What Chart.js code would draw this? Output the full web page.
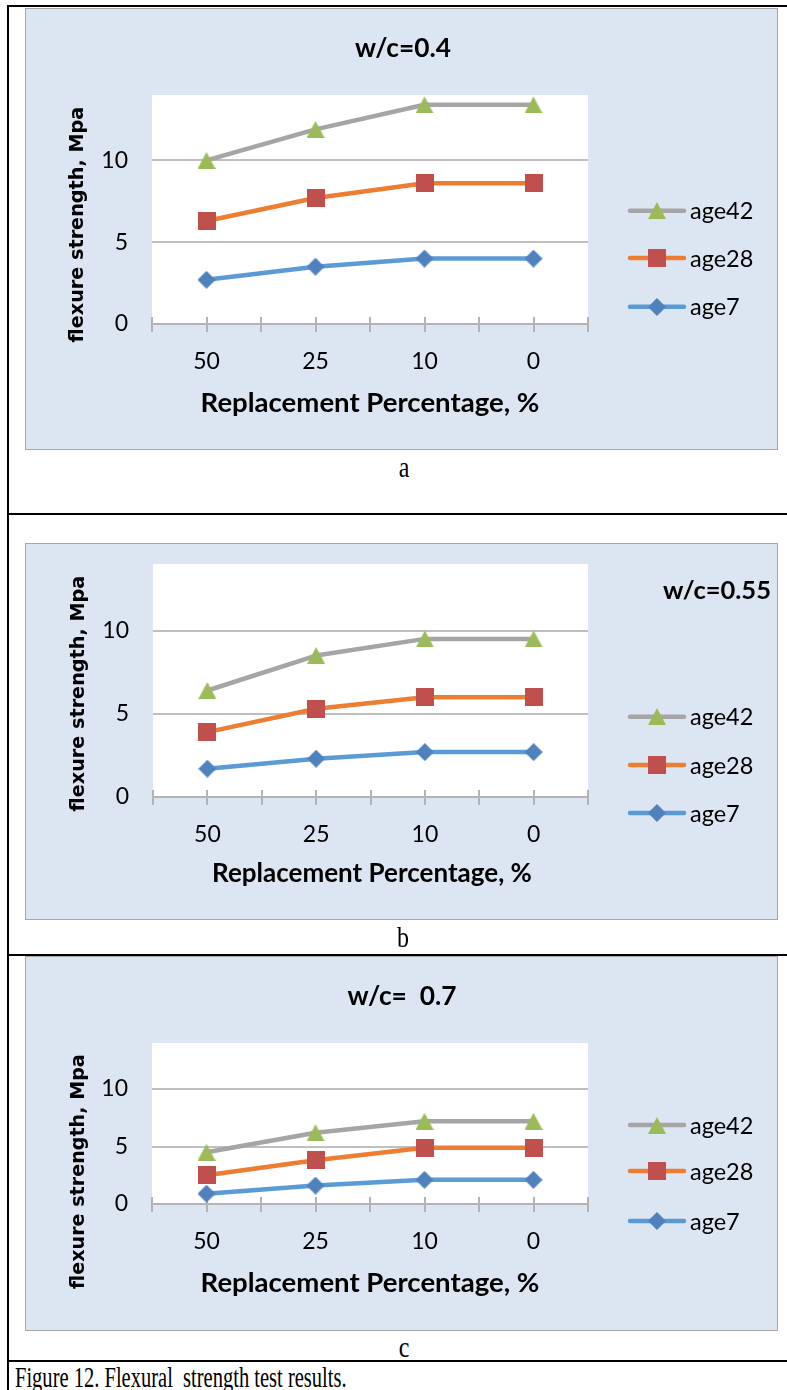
<!DOCTYPE html>
<html><head><meta charset="utf-8">
<script src="https://cdn.jsdelivr.net/npm/chart.js@4.4.1/dist/chart.umd.min.js"></script>
<style>
html,body{margin:0;padding:0;background:#fff;}
body{width:787px;height:1390px;position:relative;overflow:hidden;}
.ln{position:absolute;background:#000;}
.box{position:absolute;background:#dce6f2;border:1px solid #a6a6a6;box-sizing:border-box;}
canvas{position:absolute;}
.t{position:absolute;white-space:pre;line-height:1;color:#000;}
</style></head><body>
<div class="ln" style="left:7px;top:5px;width:780px;height:2px"></div>
<div class="ln" style="left:7px;top:5px;width:2px;height:1385px"></div>
<div class="ln" style="left:7px;top:513px;width:780px;height:2px"></div>
<div class="ln" style="left:7px;top:954px;width:780px;height:2px"></div>
<div class="ln" style="left:7px;top:1360px;width:780px;height:2px"></div>

<div class="box" style="left:25px;top:8px;width:753px;height:442px"></div>
<div class="box" style="left:25px;top:543px;width:753px;height:377px"></div>
<div class="box" style="left:25px;top:956px;width:753px;height:375px"></div>

<canvas id="ca" width="753" height="442" style="left:25px;top:8px"></canvas>
<canvas id="cb" width="753" height="377" style="left:25px;top:543px"></canvas>
<canvas id="cc" width="753" height="375" style="left:25px;top:956px"></canvas>

<script>
// ---------------- DATA ----------------
const categories = ['50', '25', '10', '0'];
const seriesNames = ['age42', 'age28', 'age7'];
const a_age42 = [10.0, 11.9, 13.4, 13.4];
const a_age28 = [6.3, 7.7, 8.6, 8.6];
const a_age7  = [2.7, 3.5, 4.0, 4.0];
const b_age42 = [6.4, 8.5, 9.5, 9.5];
const b_age28 = [3.9, 5.3, 6.0, 6.0];
const b_age7  = [1.7, 2.3, 2.7, 2.7];
const c_age42 = [4.5, 6.2, 7.2, 7.2];
const c_age28 = [2.5, 3.8, 4.9, 4.9];
const c_age7  = [0.9, 1.6, 2.1, 2.1];
const yTicks = [0, 5, 10];
const yMin = 0, yMax = 14, yStep = 5;
const panelTitles = ['w/c=0.4', 'w/c=0.55', 'w/c=  0.7'];
const panelLetters = ['a', 'b', 'c'];
const xTitle = 'Replacement Percentage, %';
const yTitle = 'flexure strength, Mpa';
const figureCaption = 'Figure 12. Flexural  strength test results.';

// ---------------- STYLE ----------------
const LINE_COLORS = ['#a5a5a5', '#ed7d31', '#5b9bd5'];
const MARK_COLORS = ['#9bbb59', '#c0504d', '#4f81bd'];
const MARK_SHAPES = ['tri', 'sq', 'dia'];
const AXIS = '#b3b3b3';
const FONT = 'Lato';

function markerCanvas(shape, color, w, h) {
  const c = document.createElement('canvas');
  c.width = w; c.height = h;
  const g = c.getContext('2d');
  g.fillStyle = color;
  g.beginPath();
  if (shape === 'tri') { g.moveTo(w / 2, 0); g.lineTo(w, h); g.lineTo(0, h); }
  else if (shape === 'sq') { g.rect(0, 0, w, h); }
  else { g.moveTo(w / 2, 0); g.lineTo(w, h / 2); g.lineTo(w / 2, h); g.lineTo(0, h / 2); }
  g.closePath(); g.fill();
  return c;
}
const MARK_SIZES = [[18, 17], [18, 18], [18, 18]];
const markers = MARK_SHAPES.map((s, i) => markerCanvas(s, MARK_COLORS[i], MARK_SIZES[i][0], MARK_SIZES[i][1]));

const decor = {
  id: 'decor',
  beforeDraw(chart) {
    const { ctx, chartArea: a } = chart;
    ctx.save();
    ctx.fillStyle = '#ffffff';
    ctx.fillRect(a.left, a.top, a.right - a.left, a.bottom - a.top);
    ctx.restore();
  },
  beforeDatasetsDraw(chart) {
    const { ctx, chartArea: a } = chart;
    const xs = chart.scales.x;
    const n = chart.data.labels.length;
    ctx.save();
    ctx.strokeStyle = AXIS; ctx.lineWidth = 2;
    for (let i = -0.5; i <= n - 0.5 + 1e-9; i += 0.5) {
      const px = Math.round(xs.getPixelForValue(i));
      ctx.beginPath(); ctx.moveTo(px, a.bottom - 7); ctx.lineTo(px, a.bottom + 8); ctx.stroke();
    }
    ctx.restore();
  },
  afterDraw(chart, args, opts) {
    const ctx = chart.ctx;
    ctx.save();
    chart.data.datasets.forEach((ds, k) => {
      const y = opts.rows[k];
      ctx.strokeStyle = ds.borderColor; ctx.lineWidth = ds.borderWidth; ctx.lineCap = 'round';
      ctx.beginPath(); ctx.moveTo(opts.x0, y); ctx.lineTo(opts.x1, y); ctx.stroke();
      const img = ds.pointStyle;
      ctx.drawImage(img, Math.round((opts.x0 + opts.x1) / 2 - img.width / 2), Math.round(y - img.height / 2));
      ctx.fillStyle = '#000';
      ctx.font = '23.5px ' + FONT;
      ctx.textBaseline = 'middle'; ctx.textAlign = 'left';
      ctx.fillText(ds.label, opts.tx, y + 1);
    });
    ctx.restore();
  }
};

function makeChart(id, values, g) {
  return new Chart(document.getElementById(id), {
    type: 'line',
    data: {
      labels: categories,
      datasets: values.map((v, i) => ({
        label: seriesNames[i],
        data: v,
        borderColor: LINE_COLORS[i],
        backgroundColor: MARK_COLORS[i],
        borderWidth: 4.5,
        borderCapStyle: 'round',
        borderJoinStyle: 'round',
        pointStyle: markers[i],
        pointRadius: 9,
        pointHoverRadius: 9,
        tension: 0,
        fill: false
      }))
    },
    options: {
      responsive: false,
      animation: false,
      events: [],
      layout: { padding: { left: 0, right: g.padRight, top: g.padTop, bottom: 0 } },
      plugins: {
        legend: { display: false },
        title: { display: false },
        tooltip: { enabled: false },
        decor: g.legend
      },
      scales: {
        x: {
          type: 'category',
          offset: true,
          grid: { display: false, drawTicks: false },
          border: { display: true, color: AXIS, width: 2 },
          ticks: { color: '#000', font: { family: FONT, size: 23 }, padding: g.xPad, maxRotation: 0, autoSkip: false },
          afterFit(s) { s.height = g.xH; s.paddingLeft = 0; s.paddingRight = 0; }
        },
        y: {
          min: yMin, max: yMax,
          grid: { color: (c) => c.tick && c.tick.value === 0 ? 'rgba(0,0,0,0)' : '#bfbfbf', lineWidth: 2, drawTicks: false },
          border: { display: false },
          ticks: {
            stepSize: yStep, includeBounds: false, color: '#000',
            font: { family: FONT, size: 23 }, padding: g.yPad,
            callback: (v) => yTicks.includes(v) ? String(v) : ''
          },
          afterFit(s) { s.width = g.yW; s.paddingTop = 0; s.paddingBottom = 0; }
        }
      }
    },
    plugins: [decor]
  });
}

makeChart('ca', [a_age42, a_age28, a_age7], {
  padTop: 87, padRight: 190, yW: 127, xH: 126, xPad: 24, yPad: 24,
  legend: { rows: [202.7, 250, 298.7], x0: 605, x1: 659, tx: 665 }
});
makeChart('cb', [b_age42, b_age28, b_age7], {
  padTop: 21, padRight: 190, yW: 128, xH: 123, xPad: 24, yPad: 24,
  legend: { rows: [173.7, 222, 270], x0: 605, x1: 659, tx: 665 }
});
makeChart('cc', [c_age42, c_age28, c_age7], {
  padTop: 87, padRight: 190, yW: 127, xH: 127, xPad: 24, yPad: 24,
  legend: { rows: [169, 215, 265], x0: 605, x1: 659, tx: 665 }
});

// ---------------- TEXT ----------------
function place(txt, x, y, o) {
  const d = document.createElement('div');
  d.className = 't';
  d.textContent = txt;
  d.style.fontFamily = o.font;
  d.style.fontWeight = o.weight || 'normal';
  d.style.fontSize = o.size + 'px';
  document.body.appendChild(d);
  if (o.w) {
    const w0 = d.getBoundingClientRect().width;
    d.style.fontSize = (o.size * o.w / w0) + 'px';
  }
  const r = d.getBoundingClientRect();
  d.style.left = (o.align === 'left' ? x : x - r.width / 2) + 'px';
  d.style.top = (y - r.height / 2) + 'px';
  const tf = [];
  if (o.rot) tf.push('rotate(-90deg)');
  if (o.sy) { tf.push('scaleY(' + o.sy + ')'); d.style.transformOrigin = o.align === 'left' ? '0 50%' : '50% 50%'; }
  if (tf.length) d.style.transform = tf.join(' ');
  return d;
}
const TB = { font: 'Lato', weight: 'bold', size: 22 };
place(panelTitles[0], 403, 47, Object.assign({ w: 96 }, TB));
place(panelTitles[1], 717, 590, Object.assign({ w: 108 }, TB));
place(panelTitles[2], 402, 995, Object.assign({ w: 109 }, TB));

place(xTitle, 370, 402, Object.assign({ w: 339 }, TB));
place(xTitle, 372, 872, Object.assign({ w: 320 }, TB));
place(xTitle, 370, 1282, Object.assign({ w: 339 }, TB));

const YT = { font: 'DejaVu Sans', weight: 'bold', size: 16, rot: true, w: 236 };
place(yTitle, 77, 225, YT);
place(yTitle, 78, 694, YT);
place(yTitle, 77, 1172, Object.assign({}, YT, { w: 235 }));

const CAP = { font: 'Liberation Serif', size: 24, sy: 1.2 };
place(panelLetters[0], 404, 466.5, CAP);
place(panelLetters[1], 403, 937, CAP);
place(panelLetters[2], 404, 1346.5, CAP);
place(figureCaption, 15, 1377, { font: 'Liberation Serif', size: 21, sy: 1.45, w: 332, align: 'left' });
</script>
</body></html>
